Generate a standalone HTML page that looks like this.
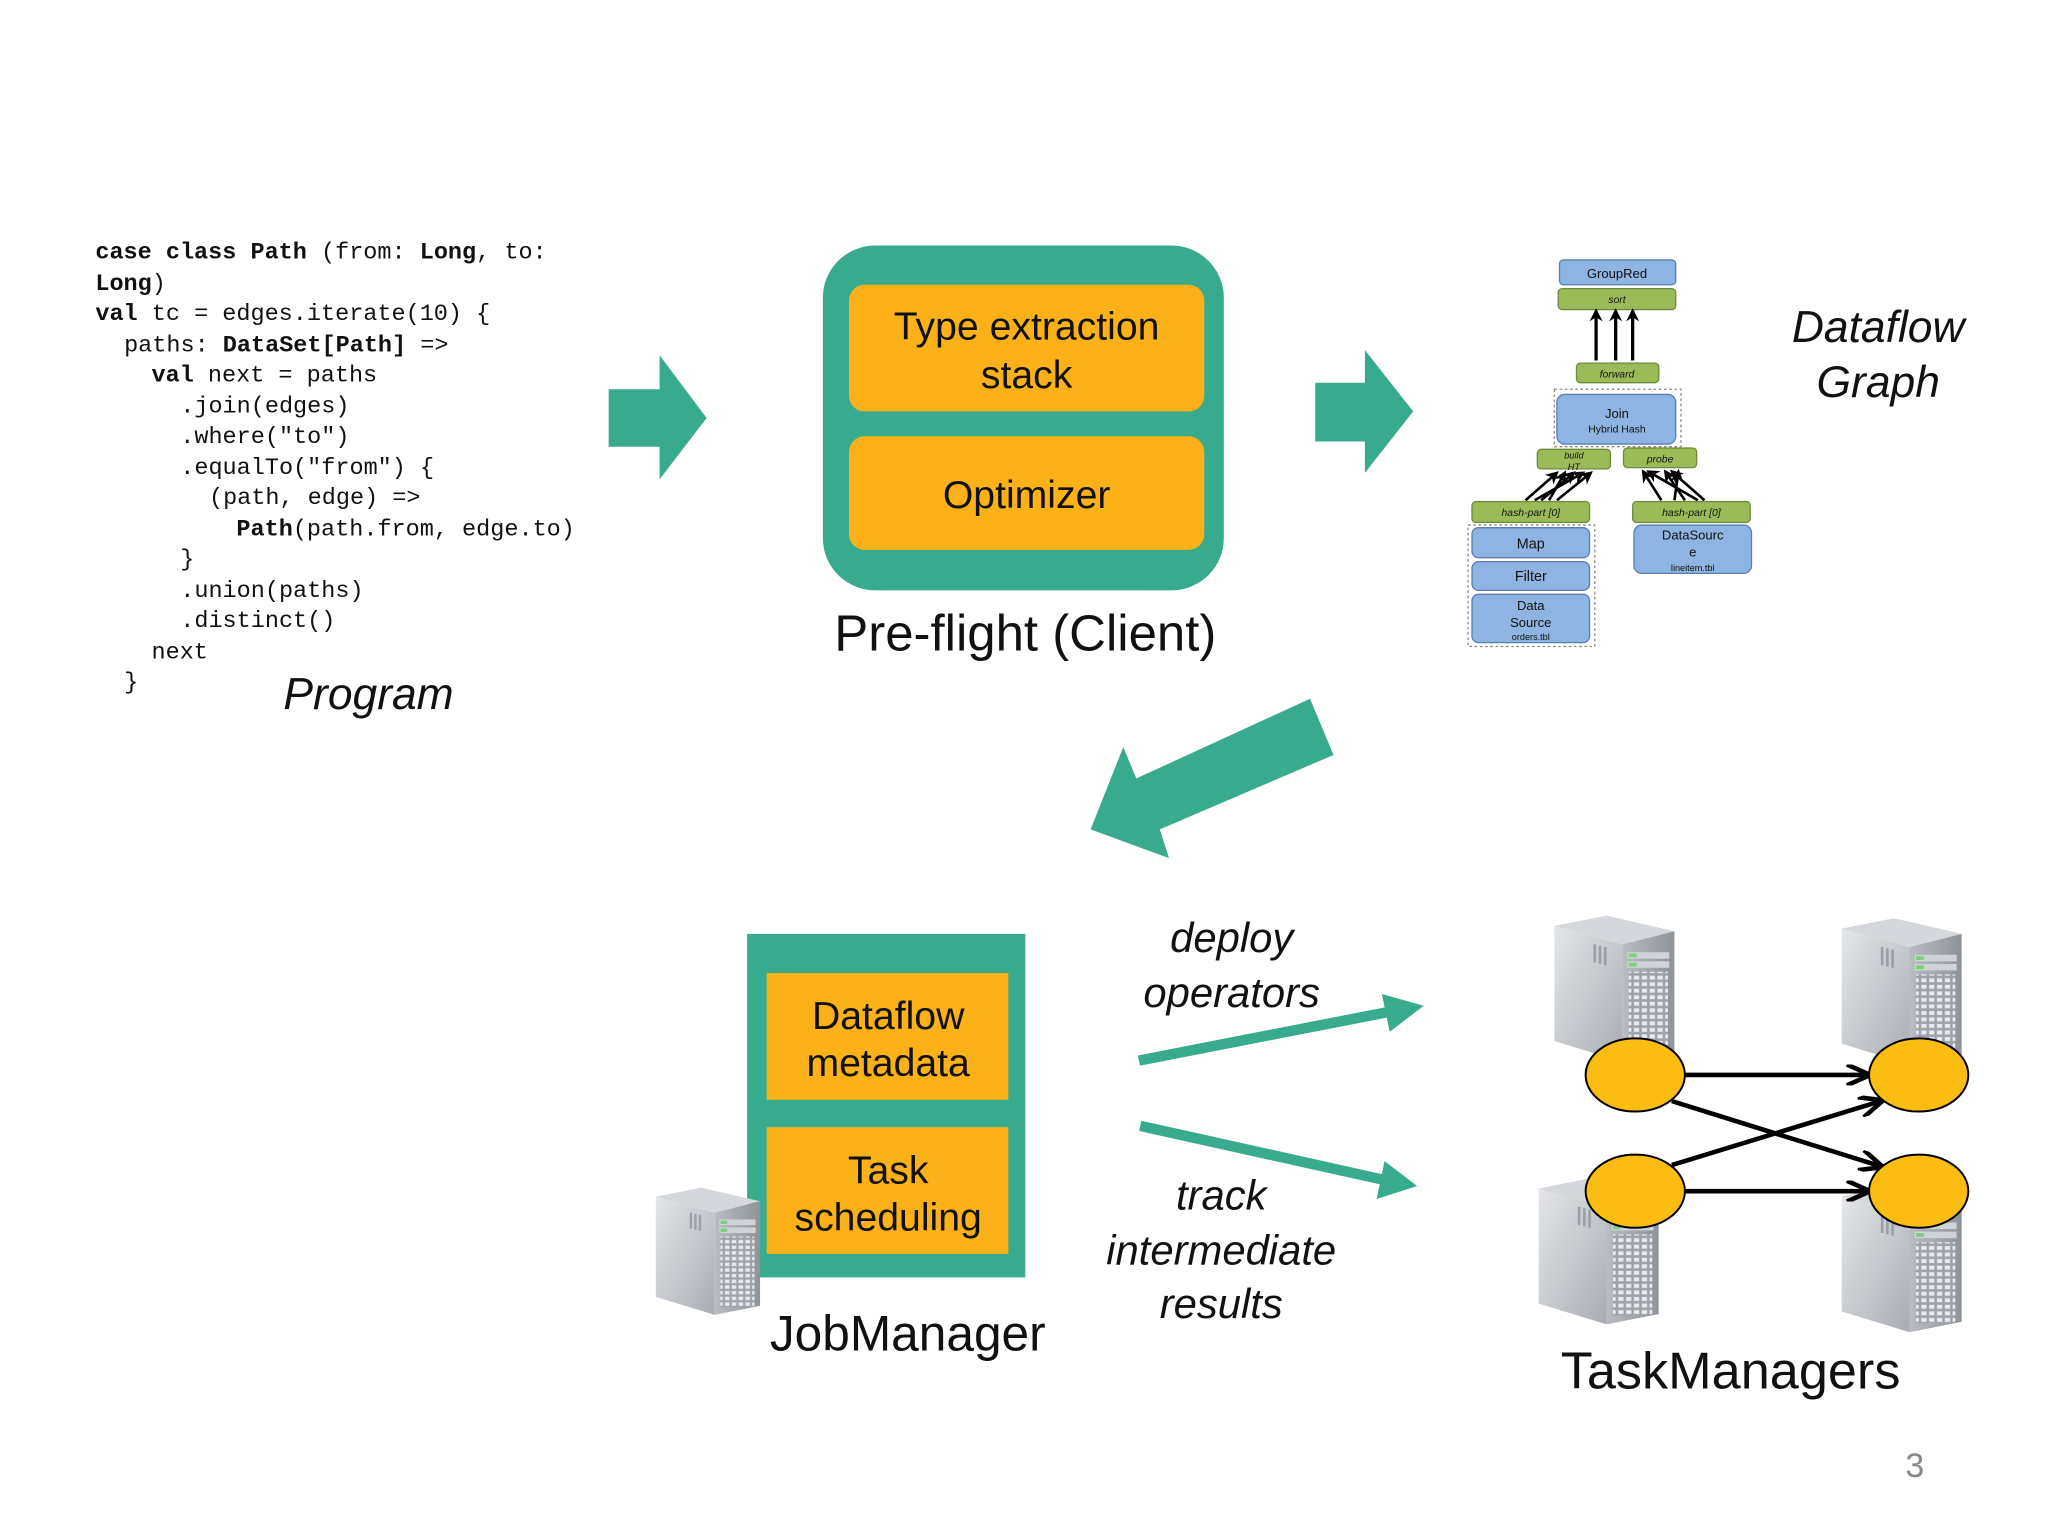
<!DOCTYPE html>
<html><head><meta charset="utf-8"><style>
html,body{margin:0;padding:0;background:#fff;width:2048px;height:1536px;overflow:hidden}
svg{display:block}
.code{font-family:"Liberation Mono",monospace;font-size:18px;fill:#111}
.b{font-weight:bold}
.sans{font-family:"Liberation Sans",sans-serif}
</style></head><body>
<svg width="2048" height="1536" viewBox="0 0 1568 1176" xmlns="http://www.w3.org/2000/svg">
<defs>
<linearGradient id="gs" x1="0" y1="0" x2="1" y2="1"><stop offset="0" stop-color="#e4e6e9"/><stop offset="1" stop-color="#a9adb3"/></linearGradient>
<linearGradient id="gf" x1="0" y1="0" x2="1" y2="0"><stop offset="0" stop-color="#b9bdc3"/><stop offset="1" stop-color="#8e939a"/></linearGradient>
<pattern id="grid" width="6" height="5" patternUnits="userSpaceOnUse"><rect width="6" height="5" fill="#9ea3aa"/><rect x="1" y="1" width="4" height="3" fill="#e8eaed"/></pattern>
<symbol id="srv" viewBox="0 0 92 112">
<polygon points="0,8 40,0 92,12 52,22" fill="#d4d7db"/>
<polygon points="0,8 52,22 52,112 0,96" fill="url(#gs)"/>
<polygon points="52,22 92,12 92,104 52,112" fill="url(#gf)"/>
<rect x="56" y="28" width="32" height="5" fill="#cfd3d7"/>
<rect x="57" y="29" width="6" height="3" fill="#7ecf7a"/>
<rect x="56" y="35" width="32" height="5" fill="#cfd3d7"/>
<rect x="57" y="36" width="6" height="3" fill="#7ecf7a"/>
<rect x="57" y="43" width="30" height="62" fill="url(#grid)"/>
<rect x="30" y="22" width="2" height="14" fill="#9aa0a7"/><rect x="34" y="23" width="2" height="14" fill="#9aa0a7"/><rect x="38" y="24" width="2" height="14" fill="#9aa0a7"/>
</symbol>
<marker id="ah" markerWidth="10" markerHeight="10" refX="8" refY="5" orient="auto" markerUnits="userSpaceOnUse"><path d="M0,0 L10,5 L0,10 L3,5z" fill="#000"/></marker>
<marker id="oa" markerWidth="22" markerHeight="16" refX="18" refY="8" orient="auto" markerUnits="userSpaceOnUse"><path d="M2,0 L20,8 L2,16" fill="none" stroke="#000" stroke-width="3.5"/></marker>
</defs>

<!-- code -->
<g class="code" xml:space="preserve">
<text x="73" y="198"><tspan class="b">case class Path</tspan> (from: <tspan class="b">Long</tspan>, to:</text>
<text x="73" y="222"><tspan class="b">Long</tspan>)</text>
<text x="73" y="245"><tspan class="b">val</tspan> tc = edges.iterate(10) {</text>
<text x="95" y="269">paths: <tspan class="b">DataSet[Path]</tspan> =&gt;</text>
<text x="116" y="292"><tspan class="b">val</tspan> next = paths</text>
<text x="138" y="316">.join(edges)</text>
<text x="138" y="339">.where("to")</text>
<text x="138" y="363">.equalTo("from") {</text>
<text x="160" y="386">(path, edge) =&gt;</text>
<text x="181" y="410"><tspan class="b">Path</tspan>(path.from, edge.to)</text>
<text x="138" y="433">}</text>
<text x="138" y="457">.union(paths)</text>
<text x="138" y="480">.distinct()</text>
<text x="116" y="504">next</text>
<text x="95" y="527">}</text>
</g>
<text x="217" y="543" class="sans" font-size="34" font-style="italic" fill="#111">Program</text>

<!-- arrow 1 -->
<polygon points="466,298 505,298 505,272 541,320 505,367 505,342 466,342" fill="#38ab8f"/>
<!-- preflight -->
<rect x="630" y="188" width="307" height="264" rx="40" fill="#38ab8f"/>
<rect x="650" y="218" width="272" height="97" rx="12" fill="#fbb117"/>
<rect x="650" y="334" width="272" height="87" rx="12" fill="#fbb117"/>
<g class="sans" font-size="30" fill="#111" text-anchor="middle">
<text x="786" y="260">Type extraction</text>
<text x="786" y="297">stack</text>
<text x="786" y="389">Optimizer</text>
<text x="785" y="498" font-size="39">Pre-flight (Client)</text>
</g>
<!-- arrow 2 -->
<polygon points="1007,293 1045,293 1045,268 1082,315 1045,362 1045,338 1007,338" fill="#38ab8f"/>

<!-- dataflow graph -->
<g class="sans" text-anchor="middle" fill="#111">
<rect x="1194" y="199" width="89" height="19" rx="3" fill="#8db4e2" stroke="#5a7fae"/>
<text x="1238" y="213" font-size="10">GroupRed</text>
<rect x="1193" y="221" width="90" height="16" rx="3" fill="#9bbb59" stroke="#6f8a3a"/>
<text x="1238" y="232" font-size="8" font-style="italic">sort</text>
<line x1="1222" y1="276" x2="1222" y2="238" stroke="#000" stroke-width="2.5" marker-end="url(#ah)"/>
<line x1="1237" y1="276" x2="1237" y2="238" stroke="#000" stroke-width="2.5" marker-end="url(#ah)"/>
<line x1="1250" y1="276" x2="1250" y2="238" stroke="#000" stroke-width="2.5" marker-end="url(#ah)"/>
<rect x="1207" y="278" width="63" height="15" rx="3" fill="#9bbb59" stroke="#6f8a3a"/>
<text x="1238" y="289" font-size="8" font-style="italic">forward</text>
<rect x="1190" y="298" width="97" height="44" fill="none" stroke="#888" stroke-dasharray="2,2"/>
<rect x="1192" y="302" width="91" height="38" rx="6" fill="#8db4e2" stroke="#5a7fae"/>
<text x="1238" y="320" font-size="10">Join</text>
<text x="1238" y="331" font-size="8">Hybrid Hash</text>
<rect x="1177" y="344" width="56" height="15" rx="3" fill="#9bbb59" stroke="#6f8a3a"/>
<text x="1205" y="351" font-size="7" font-style="italic">build</text>
<text x="1205" y="360" font-size="7" font-style="italic">HT</text>
<rect x="1243" y="343" width="56" height="15" rx="3" fill="#9bbb59" stroke="#6f8a3a"/>
<text x="1271" y="354" font-size="8" font-style="italic">probe</text>
<g stroke="#000" stroke-width="2" marker-end="url(#ah)">
<line x1="1168" y1="383" x2="1192" y2="362"/><line x1="1180" y1="383" x2="1205" y2="362"/><line x1="1192" y1="383" x2="1218" y2="362"/><line x1="1175" y1="383" x2="1212" y2="362"/><line x1="1186" y1="383" x2="1198" y2="362"/>
<line x1="1300" y1="383" x2="1262" y2="361"/><line x1="1290" y1="383" x2="1275" y2="361"/><line x1="1282" y1="383" x2="1285" y2="361"/><line x1="1305" y1="383" x2="1280" y2="361"/><line x1="1272" y1="383" x2="1258" y2="361"/>
</g>
<rect x="1127" y="384" width="90" height="16" rx="3" fill="#9bbb59" stroke="#6f8a3a"/>
<text x="1172" y="395" font-size="8" font-style="italic">hash-part [0]</text>
<rect x="1250" y="384" width="90" height="16" rx="3" fill="#9bbb59" stroke="#6f8a3a"/>
<text x="1295" y="395" font-size="8" font-style="italic">hash-part [0]</text>
<rect x="1124" y="402" width="97" height="93" fill="none" stroke="#888" stroke-dasharray="2,2"/>
<rect x="1127" y="404" width="90" height="23" rx="5" fill="#8db4e2" stroke="#5a7fae"/>
<text x="1172" y="420" font-size="11">Map</text>
<rect x="1127" y="430" width="90" height="22" rx="5" fill="#8db4e2" stroke="#5a7fae"/>
<text x="1172" y="445" font-size="11">Filter</text>
<rect x="1127" y="455" width="90" height="37" rx="5" fill="#8db4e2" stroke="#5a7fae"/>
<text x="1172" y="467" font-size="10">Data</text>
<text x="1172" y="480" font-size="10">Source</text>
<text x="1172" y="490" font-size="7">orders.tbl</text>
<rect x="1251" y="402" width="90" height="37" rx="6" fill="#8db4e2" stroke="#5a7fae"/>
<text x="1296" y="413" font-size="10">DataSourc</text>
<text x="1296" y="426" font-size="10">e</text>
<text x="1296" y="437" font-size="7">lineitem.tbl</text>
</g>
<g class="sans" font-size="34" font-style="italic" fill="#111" text-anchor="middle">
<text x="1438" y="262">Dataflow</text>
<text x="1438" y="304">Graph</text>
</g>

<!-- diagonal arrow -->
<polygon points="1003,535 1021,578 888,635 895,657 835,635 860,572 870,596" fill="#38ab8f"/>

<!-- JobManager -->
<rect x="572" y="715" width="213" height="263" fill="#38ab8f"/>
<rect x="587" y="745" width="185" height="97" fill="#fbb117"/>
<rect x="587" y="863" width="185" height="97" fill="#fbb117"/>
<g class="sans" font-size="30" fill="#111" text-anchor="middle">
<text x="680" y="788">Dataflow</text>
<text x="680" y="824">metadata</text>
<text x="680" y="906">Task</text>
<text x="680" y="942">scheduling</text>
<text x="695" y="1034" font-size="38">JobManager</text>
<text x="1325" y="1063" font-size="40">TaskManagers</text>
</g>
<use href="#srv" x="502" y="900" width="80" height="116"/>

<!-- deploy/track -->
<g class="sans" font-size="32" font-style="italic" fill="#111" text-anchor="middle">
<text x="943" y="729">deploy</text>
<text x="943" y="771">operators</text>
<text x="935" y="926">track</text>
<text x="935" y="968">intermediate</text>
<text x="935" y="1009">results</text>
</g>
<line x1="872" y1="812" x2="1062" y2="775" stroke="#38ab8f" stroke-width="8"/>
<polygon points="1058,761 1090,770 1064,790" fill="#38ab8f"/>
<line x1="873" y1="862" x2="1058" y2="903" stroke="#38ab8f" stroke-width="8"/>
<polygon points="1060,889 1085,908 1054,918" fill="#38ab8f"/>

<!-- task managers -->
<use href="#srv" x="1190" y="701" width="92" height="112"/>
<use href="#srv" x="1410" y="703" width="92" height="112"/>
<use href="#srv" x="1178" y="900" width="92" height="116"/>
<use href="#srv" x="1410" y="905" width="92" height="118"/>
<g stroke="#000" stroke-width="3.5" fill="none" marker-end="url(#oa)">
<line x1="1290" y1="823" x2="1430" y2="823"/>
<line x1="1290" y1="912" x2="1430" y2="912"/>
<line x1="1280" y1="843" x2="1440" y2="893"/>
<line x1="1280" y1="892" x2="1440" y2="843"/>
</g>
<g fill="#fbbd12" stroke="#000" stroke-width="1.5">
<ellipse cx="1252" cy="823" rx="38" ry="28"/>
<ellipse cx="1469" cy="823" rx="38" ry="28"/>
<ellipse cx="1252" cy="912" rx="38" ry="28"/>
<ellipse cx="1469" cy="912" rx="38" ry="28"/>
</g>
<text x="1466" y="1131" class="sans" font-size="26" fill="#888" text-anchor="middle">3</text>
</svg>
</body></html>
